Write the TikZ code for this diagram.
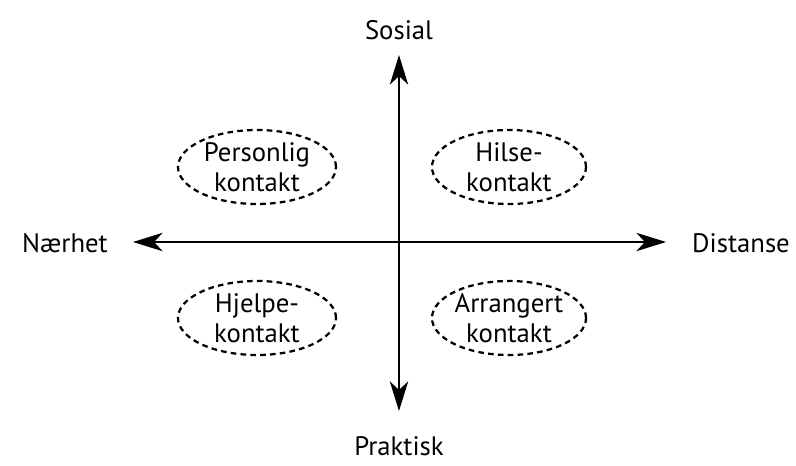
\documentclass[tikz,border=0pt]{standalone}
\usepackage{fontspec}
\setmainfont{PT Sans}
\usetikzlibrary{
    arrows.meta,
    positioning,
    shapes.geometric
}

\begin{document}
\begin{tikzpicture}[
    x=0.025cm, y=-0.025cm,
    axis/.style={line width=1.7pt, {Stealth[length=21pt, width=13pt, inset=6pt]}-{Stealth[length=21pt, width=13pt, inset=6pt]}},
    quadrant/.style={draw, ellipse, line width=1.6pt, dash pattern=on 4pt off 3pt,
      align=center, font=\fontsize{19}{21}\selectfont, inner sep=0pt},
    pole/.style={font=\fontsize{19}{19}\selectfont, inner sep=0pt}
  ]

  \useasboundingbox (0,0) rectangle (796,466);

  % poles {{{
  \node[pole] (sosial) at (399,30) {Sosial};
  \node[pole] (praktisk) at (399,446) {Praktisk};
  \node[pole] (naerhet) at (65,243) {Nærhet};
  \node[pole] (distanse) at (741,243) {Distanse};
  % }}}

  % axes {{{
  \coordinate (top) at (399,55);
  \coordinate (bottom) at (399,411);
  \coordinate (left) at (133,242);
  \coordinate (right) at (666,242);
  \draw[axis] (bottom) -- (top);
  \draw[axis] (left) -- (right);
  % }}}

  % quadrants {{{
  \node[
    quadrant,
    minimum width=158*0.025cm,
    minimum height=74*0.025cm
  ] (personlig) at (257,167)
  {Personlig\\kontakt};
  \node[
    quadrant,
    minimum width=154*0.025cm,
    minimum height=74*0.025cm
  ] (hilse) at (509,167)
  {Hilse-\\kontakt};
  \node[
    quadrant,
    minimum width=158*0.025cm,
    minimum height=74*0.025cm
  ] (hjelpe) at (257,318)
  {Hjelpe-\\kontakt};
  \node[
    quadrant,
    minimum width=154*0.025cm,
    minimum height=74*0.025cm
  ] (arrangert) at (509,318)
  {Arrangert\\kontakt};
  % }}}

\end{tikzpicture}
\end{document}
